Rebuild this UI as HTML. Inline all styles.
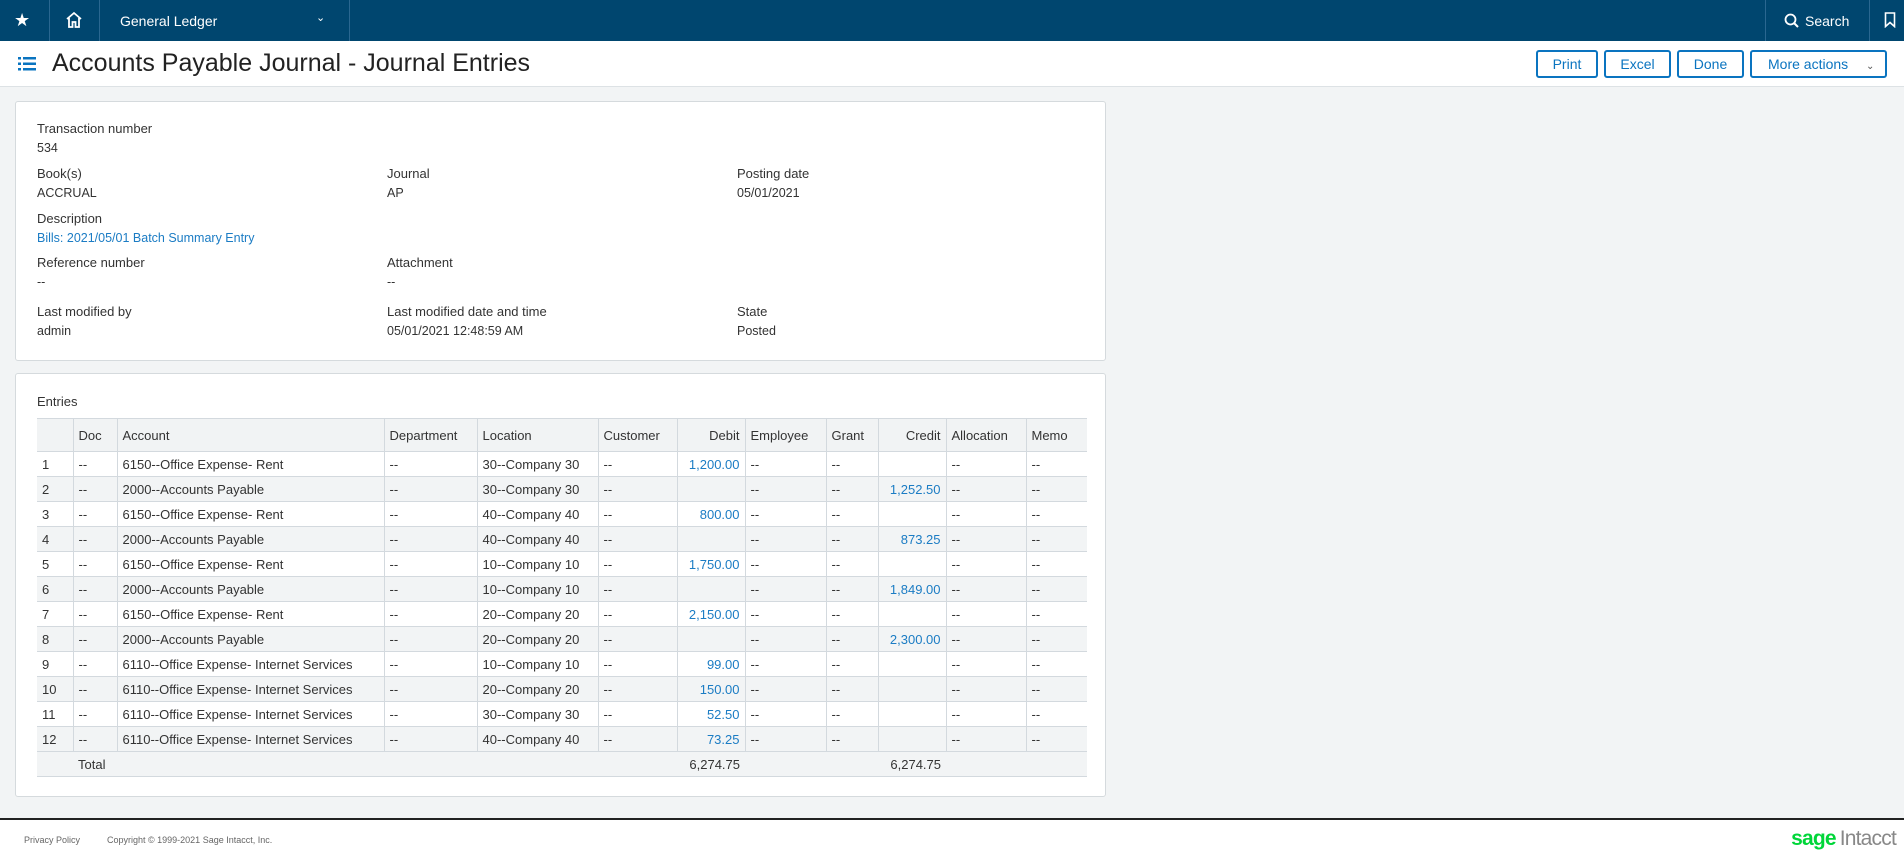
<!DOCTYPE html>
<html><head><meta charset="utf-8"><style>
*{box-sizing:border-box;margin:0;padding:0}
body{width:1904px;height:860px;overflow:hidden;background:#f2f4f5;font-family:"Liberation Sans",Arial,sans-serif;color:#222;position:relative}
.nav{position:absolute;left:0;top:0;width:1904px;height:41px;background:#00466f;color:#fff}
.nav .d{position:absolute;top:0;width:1px;height:41px;background:#2a6790}
.tb{position:absolute;left:0;top:41px;width:1904px;height:46px;background:#fff;border-bottom:1px solid #dde2e5}
.btn{position:absolute;top:9px;height:28px;border:2px solid #0a74c0;border-radius:3px;color:#0a74c0;font-size:14px;line-height:24px;text-align:center;background:#fff}
.card{position:absolute;left:15px;width:1091px;background:#fff;border:1px solid #d5dadd;border-radius:3px}
.f{position:absolute;font-size:13px;color:#333}
.v{position:absolute;font-size:12.5px;color:#333}
table{position:absolute;left:21px;top:44px;border-collapse:collapse;font-size:13px;width:1050px;table-layout:fixed}
td,th{height:25px;border:1px solid #d3d9de;padding:0 5px;white-space:nowrap;font-weight:normal;text-align:left;color:#333}
th{height:33px;background:#f1f3f4}
tr.e td{background:#f2f4f5}
.r{text-align:right}.b{color:#1b7cc4}
tr:first-child th,tr td:first-child,tr th:first-child{border-left:none}
td:last-child,th:last-child{border-right:none}
</style></head><body>
<div class="nav">
<div style="position:absolute;left:14px;top:10px;font-size:18px">★</div>
<div class="d" style="left:49px"></div>
<svg style="position:absolute;left:64px;top:10px" width="20" height="20" viewBox="0 0 20 20"><path d="M3 9 L10 3 L17 9 M5 8 V17 H8.5 V12 H11.5 V17 H15 V8" fill="none" stroke="#fff" stroke-width="1.8"/></svg>
<div class="d" style="left:99px"></div>
<div style="position:absolute;left:120px;top:13px;font-size:14px">General Ledger</div>
<div style="position:absolute;left:316px;top:11px;font-size:11px">⌄</div>
<div class="d" style="left:349px"></div>
<div class="d" style="left:1765px"></div>
<svg style="position:absolute;left:1784px;top:13px" width="16" height="16"><circle cx="6.5" cy="6.5" r="5" fill="none" stroke="#fff" stroke-width="1.8"/><path d="M10 10 L14 14" stroke="#fff" stroke-width="2"/></svg>
<div style="position:absolute;left:1805px;top:13px;font-size:14px">Search</div>
<div class="d" style="left:1869px"></div>
<svg style="position:absolute;left:1884px;top:12px" width="12" height="16"><path d="M1.5 1 H10.5 V14.5 L6 10.5 L1.5 14.5 Z" fill="none" stroke="#fff" stroke-width="1.6"/></svg>
</div>
<div class="tb">
<svg style="position:absolute;left:18px;top:16px" width="18" height="14"><g fill="#0a74c0"><rect x="0" y="0" width="3" height="2.5"/><rect x="5" y="0" width="13" height="2.5"/><rect x="0" y="5.5" width="3" height="2.5"/><rect x="5" y="5.5" width="13" height="2.5"/><rect x="0" y="11" width="3" height="2.5"/><rect x="5" y="11" width="13" height="2.5"/></g></svg>
<div style="position:absolute;left:52px;top:8px;font-size:25px;color:#222">Accounts Payable Journal - Journal Entries</div>
<div class="btn" style="left:1536px;width:62px">Print</div>
<div class="btn" style="left:1604px;width:67px">Excel</div>
<div class="btn" style="left:1677px;width:67px">Done</div>
<div class="btn" style="left:1750px;width:137px;text-align:left;padding-left:16px">More actions <span style="font-size:10px;margin-left:14px;color:#555">⌄</span></div>
</div>
<div class="card" style="top:101px;height:260px">
<div class="f" style="left:21px;top:19px">Transaction number</div><div class="v" style="left:21px;top:39px">534</div>
<div class="f" style="left:21px;top:64px">Book(s)</div><div class="v" style="left:21px;top:84px">ACCRUAL</div>
<div class="f" style="left:371px;top:64px">Journal</div><div class="v" style="left:371px;top:84px">AP</div>
<div class="f" style="left:721px;top:64px">Posting date</div><div class="v" style="left:721px;top:84px">05/01/2021</div>
<div class="f" style="left:21px;top:109px">Description</div><div class="v" style="left:21px;top:129px;color:#1b7cc4">Bills: 2021/05/01 Batch Summary Entry</div>
<div class="f" style="left:21px;top:153px">Reference number</div><div class="v" style="left:21px;top:173px">--</div>
<div class="f" style="left:371px;top:153px">Attachment</div><div class="v" style="left:371px;top:173px">--</div>
<div class="f" style="left:21px;top:202px">Last modified by</div><div class="v" style="left:21px;top:222px">admin</div>
<div class="f" style="left:371px;top:202px">Last modified date and time</div><div class="v" style="left:371px;top:222px">05/01/2021 12:48:59 AM</div>
<div class="f" style="left:721px;top:202px">State</div><div class="v" style="left:721px;top:222px">Posted</div>
</div>
<div class="card" style="top:373px;height:424px">
<div class="f" style="left:21px;top:20px">Entries</div>
<table>
<colgroup><col style="width:36px"><col style="width:44px"><col style="width:267px"><col style="width:93px"><col style="width:121px"><col style="width:79px"><col style="width:68px"><col style="width:81px"><col style="width:52px"><col style="width:68px"><col style="width:80px"><col style="width:61px"></colgroup>
<tr><th></th><th>Doc</th><th>Account</th><th>Department</th><th>Location</th><th>Customer</th><th class="r">Debit</th><th>Employee</th><th>Grant</th><th class="r">Credit</th><th>Allocation</th><th>Memo</th></tr>
<tr><td>1</td><td>--</td><td>6150--Office Expense- Rent</td><td>--</td><td>30--Company 30</td><td>--</td><td class="r b">1,200.00</td><td>--</td><td>--</td><td></td><td>--</td><td>--</td></tr>
<tr class="e"><td>2</td><td>--</td><td>2000--Accounts Payable</td><td>--</td><td>30--Company 30</td><td>--</td><td></td><td>--</td><td>--</td><td class="r b">1,252.50</td><td>--</td><td>--</td></tr>
<tr><td>3</td><td>--</td><td>6150--Office Expense- Rent</td><td>--</td><td>40--Company 40</td><td>--</td><td class="r b">800.00</td><td>--</td><td>--</td><td></td><td>--</td><td>--</td></tr>
<tr class="e"><td>4</td><td>--</td><td>2000--Accounts Payable</td><td>--</td><td>40--Company 40</td><td>--</td><td></td><td>--</td><td>--</td><td class="r b">873.25</td><td>--</td><td>--</td></tr>
<tr><td>5</td><td>--</td><td>6150--Office Expense- Rent</td><td>--</td><td>10--Company 10</td><td>--</td><td class="r b">1,750.00</td><td>--</td><td>--</td><td></td><td>--</td><td>--</td></tr>
<tr class="e"><td>6</td><td>--</td><td>2000--Accounts Payable</td><td>--</td><td>10--Company 10</td><td>--</td><td></td><td>--</td><td>--</td><td class="r b">1,849.00</td><td>--</td><td>--</td></tr>
<tr><td>7</td><td>--</td><td>6150--Office Expense- Rent</td><td>--</td><td>20--Company 20</td><td>--</td><td class="r b">2,150.00</td><td>--</td><td>--</td><td></td><td>--</td><td>--</td></tr>
<tr class="e"><td>8</td><td>--</td><td>2000--Accounts Payable</td><td>--</td><td>20--Company 20</td><td>--</td><td></td><td>--</td><td>--</td><td class="r b">2,300.00</td><td>--</td><td>--</td></tr>
<tr><td>9</td><td>--</td><td>6110--Office Expense- Internet Services</td><td>--</td><td>10--Company 10</td><td>--</td><td class="r b">99.00</td><td>--</td><td>--</td><td></td><td>--</td><td>--</td></tr>
<tr class="e"><td>10</td><td>--</td><td>6110--Office Expense- Internet Services</td><td>--</td><td>20--Company 20</td><td>--</td><td class="r b">150.00</td><td>--</td><td>--</td><td></td><td>--</td><td>--</td></tr>
<tr><td>11</td><td>--</td><td>6110--Office Expense- Internet Services</td><td>--</td><td>30--Company 30</td><td>--</td><td class="r b">52.50</td><td>--</td><td>--</td><td></td><td>--</td><td>--</td></tr>
<tr class="e"><td>12</td><td>--</td><td>6110--Office Expense- Internet Services</td><td>--</td><td>40--Company 40</td><td>--</td><td class="r b">73.25</td><td>--</td><td>--</td><td></td><td>--</td><td>--</td></tr>
<tr class="e"><td style="border-right:none"></td><td colspan="5" style="border-left:none;border-right:none">Total</td><td class="r" style="border:none;border-bottom:1px solid #d3d9de">6,274.75</td><td colspan="2" style="border-left:none;border-right:none"></td><td class="r" style="border-left:none;border-right:none">6,274.75</td><td colspan="2" style="border-left:none"></td></tr>
</table>
</div>
<div style="position:absolute;left:0;top:818px;width:1904px;height:42px;background:#fff;border-top:2px solid #222"></div>
<div style="position:absolute;left:24px;top:835px;font-size:9px;color:#666">Privacy Policy</div>
<div style="position:absolute;left:107px;top:835px;font-size:9px;color:#666">Copyright © 1999-2021 Sage Intacct, Inc.</div>
<div style="position:absolute;right:8px;top:827px;font-size:21px;letter-spacing:-0.8px"><span style="color:#00d639;font-weight:bold">sage</span><span style="color:#888;margin-left:4px">Intacct</span></div>
</body></html>
